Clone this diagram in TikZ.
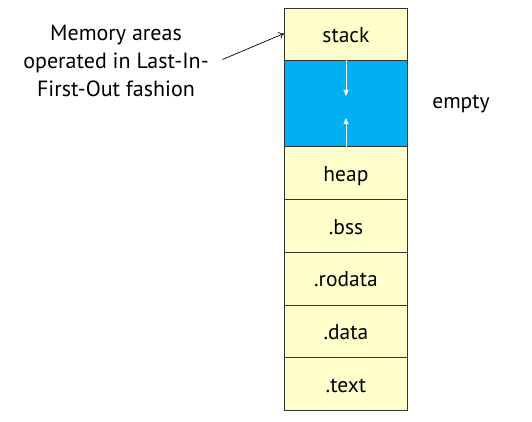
\documentclass[tikz,border=0pt]{standalone}
\usepackage{fontspec}
\setmainfont{PT Sans}
\usetikzlibrary{arrows.meta}
\definecolor{segyellow}{HTML}{FFFFCC}
\definecolor{segblue}{HTML}{00B0F0}
\definecolor{segline}{HTML}{333333}
\begin{document}
\begin{tikzpicture}[x=1pt,y=-1pt,
  seg/.style={draw=segline,line width=0.9pt,fill=segyellow,minimum width=123pt,minimum height=52.7pt,inner sep=0pt,text height=18pt,text depth=1.4pt,anchor=north west,font=\fontsize{21.5}{24}\selectfont},
  gap/.style={draw=segline,line width=0.9pt,fill=segblue,minimum width=123pt,minimum height=86pt,inner sep=0pt,anchor=north west},
  growarrow/.style={draw=white,line width=0.8pt,-{Triangle[width=5pt,length=6pt]}},
  note/.style={font=\fontsize{22}{28}\selectfont,align=center}]
\useasboundingbox (0,0) rectangle (532,422);
\node[seg] (stack) at (284,7.7) {stack};
\node[gap] (empty) at (284,60.4) {};
\node[seg] (heap) at (284,146.4) {heap};
\node[seg] (bss) at (284,199.1) {.bss};
\node[seg] (rodata) at (284,251.8) {.rodata};
\node[seg] (data) at (284,304.5) {.data};
\node[seg] (text) at (284,357.2) {.text};
\coordinate (dtip) at (346,96);
\coordinate (utip) at (346,118);
\draw[growarrow] (empty.north -| dtip) -- (dtip);
\draw[growarrow] (empty.south -| utip) -- (utip);
\node[note] (lifo) at (116,61) {Memory areas\\operated in Last-In-\\First-Out fashion};
\coordinate (lifostart) at (222.5,59.5);
\draw[-{To[length=5pt,width=7pt]},line width=0.7pt] (lifostart) -- (stack.west |- 0,33.5);
\node[font=\fontsize{21.5}{24}\selectfont] (emptylabel) at (461,104) {empty};
\end{tikzpicture}
\end{document}
